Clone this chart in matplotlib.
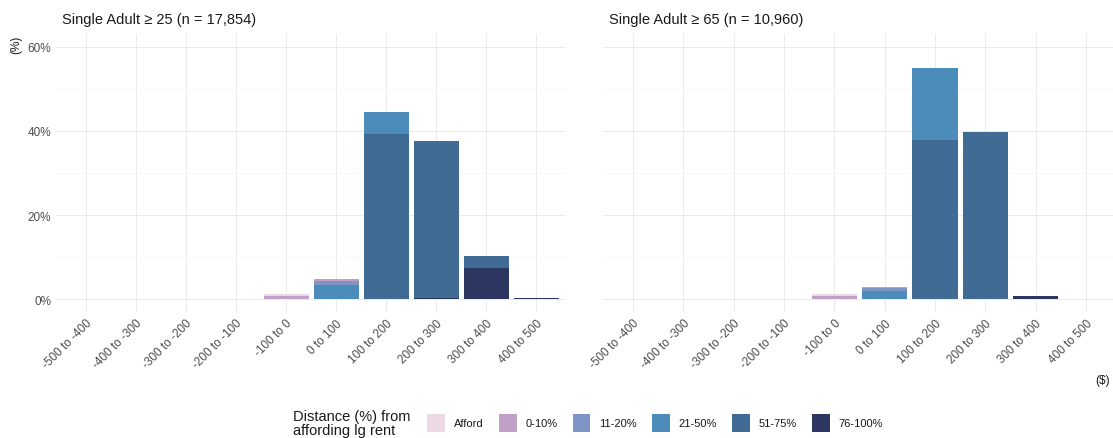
import matplotlib.pyplot as plt
from matplotlib.patches import Patch
import numpy as np

plt.rcParams['font.family'] = ['Liberation Sans', 'DejaVu Sans']

categories = ['-500 to -400', '-400 to -300', '-300 to -200', '-200 to -100', '-100 to 0',
              '0 to 100', '100 to 200', '200 to 300', '300 to 400', '400 to 500']
levels = ['Afford', '0-10%', '11-20%', '21-50%', '51-75%', '76-100%']
colors = ['#ecd9e4', '#c0a0c6', '#7d94c4', '#4b8cbb', '#3f6b94', '#2d3660']

# share of households (%) by category, one list per level
adult25 = {
    'Afford':  [0, 0, 0, 0, 0.5, 0, 0, 0, 0, 0],
    '0-10%':   [0, 0, 0, 0, 0.8, 0.6, 0, 0, 0, 0],
    '11-20%':  [0, 0, 0, 0, 0, 0.8, 0, 0, 0, 0],
    '21-50%':  [0, 0, 0, 0, 0, 3.5, 5.3, 0, 0, 0],
    '51-75%':  [0, 0, 0, 0, 0, 0, 39.2, 37.1, 2.9, 0],
    '76-100%': [0, 0, 0, 0, 0, 0, 0, 0.4, 7.5, 0.3],
}
adult65 = {
    'Afford':  [0, 0, 0, 0, 0.5, 0, 0, 0, 0, 0],
    '0-10%':   [0, 0, 0, 0, 0.7, 0.4, 0, 0, 0, 0],
    '11-20%':  [0, 0, 0, 0, 0, 0.5, 0, 0, 0, 0],
    '21-50%':  [0, 0, 0, 0, 0, 2.1, 17.2, 0, 0, 0],
    '51-75%':  [0, 0, 0, 0, 0, 0, 37.8, 39.5, 0, 0],
    '76-100%': [0, 0, 0, 0, 0, 0, 0, 0.2, 0.7, 0],
}
panels = [('Single Adult \u2265 25 (n = 17,854)', adult25),
          ('Single Adult \u2265 65 (n = 10,960)', adult65)]
yticks = [0, 20, 40, 60]

W, H = 1113, 439
fig = plt.figure(figsize=(W / 100, H / 100), dpi=100)

# axes boxes in pixels (left, top, right, bottom)
boxes = [(56, 35, 566, 313), (603, 35, 1116, 313)]

x = np.arange(len(categories))
for i, ((title, data), (l, t, r, b)) in enumerate(zip(panels, boxes)):
    ax = fig.add_axes([l / W, 1 - b / H, (r - l) / W, (b - t) / H])
    ax.set_xlim(-0.6, len(categories) - 0.4)
    ax.set_ylim(-3, 63)
    # ggplot stacks first level on top
    bottom = np.zeros(len(categories))
    for lev, col in zip(reversed(levels), reversed(colors)):
        vals = np.array(data[lev])
        ax.bar(x, vals, bottom=bottom, width=0.9, color=col, linewidth=0, zorder=2)
        bottom += vals
    ax.set_yticks(yticks)
    ax.set_yticks([10, 30, 50], minor=True)
    ax.grid(True, which='major', color='#ebebeb', lw=0.7, zorder=0)
    ax.grid(True, which='minor', axis='y', color='#f4f4f4', lw=0.5, zorder=0)
    ax.set_axisbelow(True)
    for s in ax.spines.values():
        s.set_visible(False)
    ax.tick_params(length=0, labelsize=8.5, labelcolor='#4d4d4d', which='both')
    ax.set_xticks(x)
    ax.set_xticklabels(categories, rotation=45, ha='right', rotation_mode='anchor')
    if i == 0:
        ax.set_yticklabels([f'{v}%' for v in yticks])
    else:
        ax.set_yticklabels([])
    fig.text((l + 6) / W, 1 - 20 / H, title, fontsize=10.5, color='#1a1a1a', va='center')

fig.text(16 / W, 1 - 45 / H, '(%)', rotation=90, fontsize=8.5, color='#1a1a1a', ha='center', va='center')
fig.text(1095 / W, 1 - 381 / H, '($)', fontsize=8.5, color='#1a1a1a', va='center')

fig.text(293 / W, 1 - 424 / H, 'Distance (%) from\naffording lg rent', fontsize=10.5,
         color='#1a1a1a', va='center', linespacing=1.0)
handles = [Patch(facecolor=c, edgecolor='none') for c in colors]
fig.legend(handles, levels, ncol=6, loc='center left', bbox_to_anchor=(423 / W, 1 - 424 / H),
           frameon=False, fontsize=8, handlelength=1.6, handleheight=2.1,
           handletextpad=0.8, columnspacing=1.35, labelcolor='#1a1a1a', borderaxespad=0)

fig.savefig('out.png', dpi=100, facecolor='white')
